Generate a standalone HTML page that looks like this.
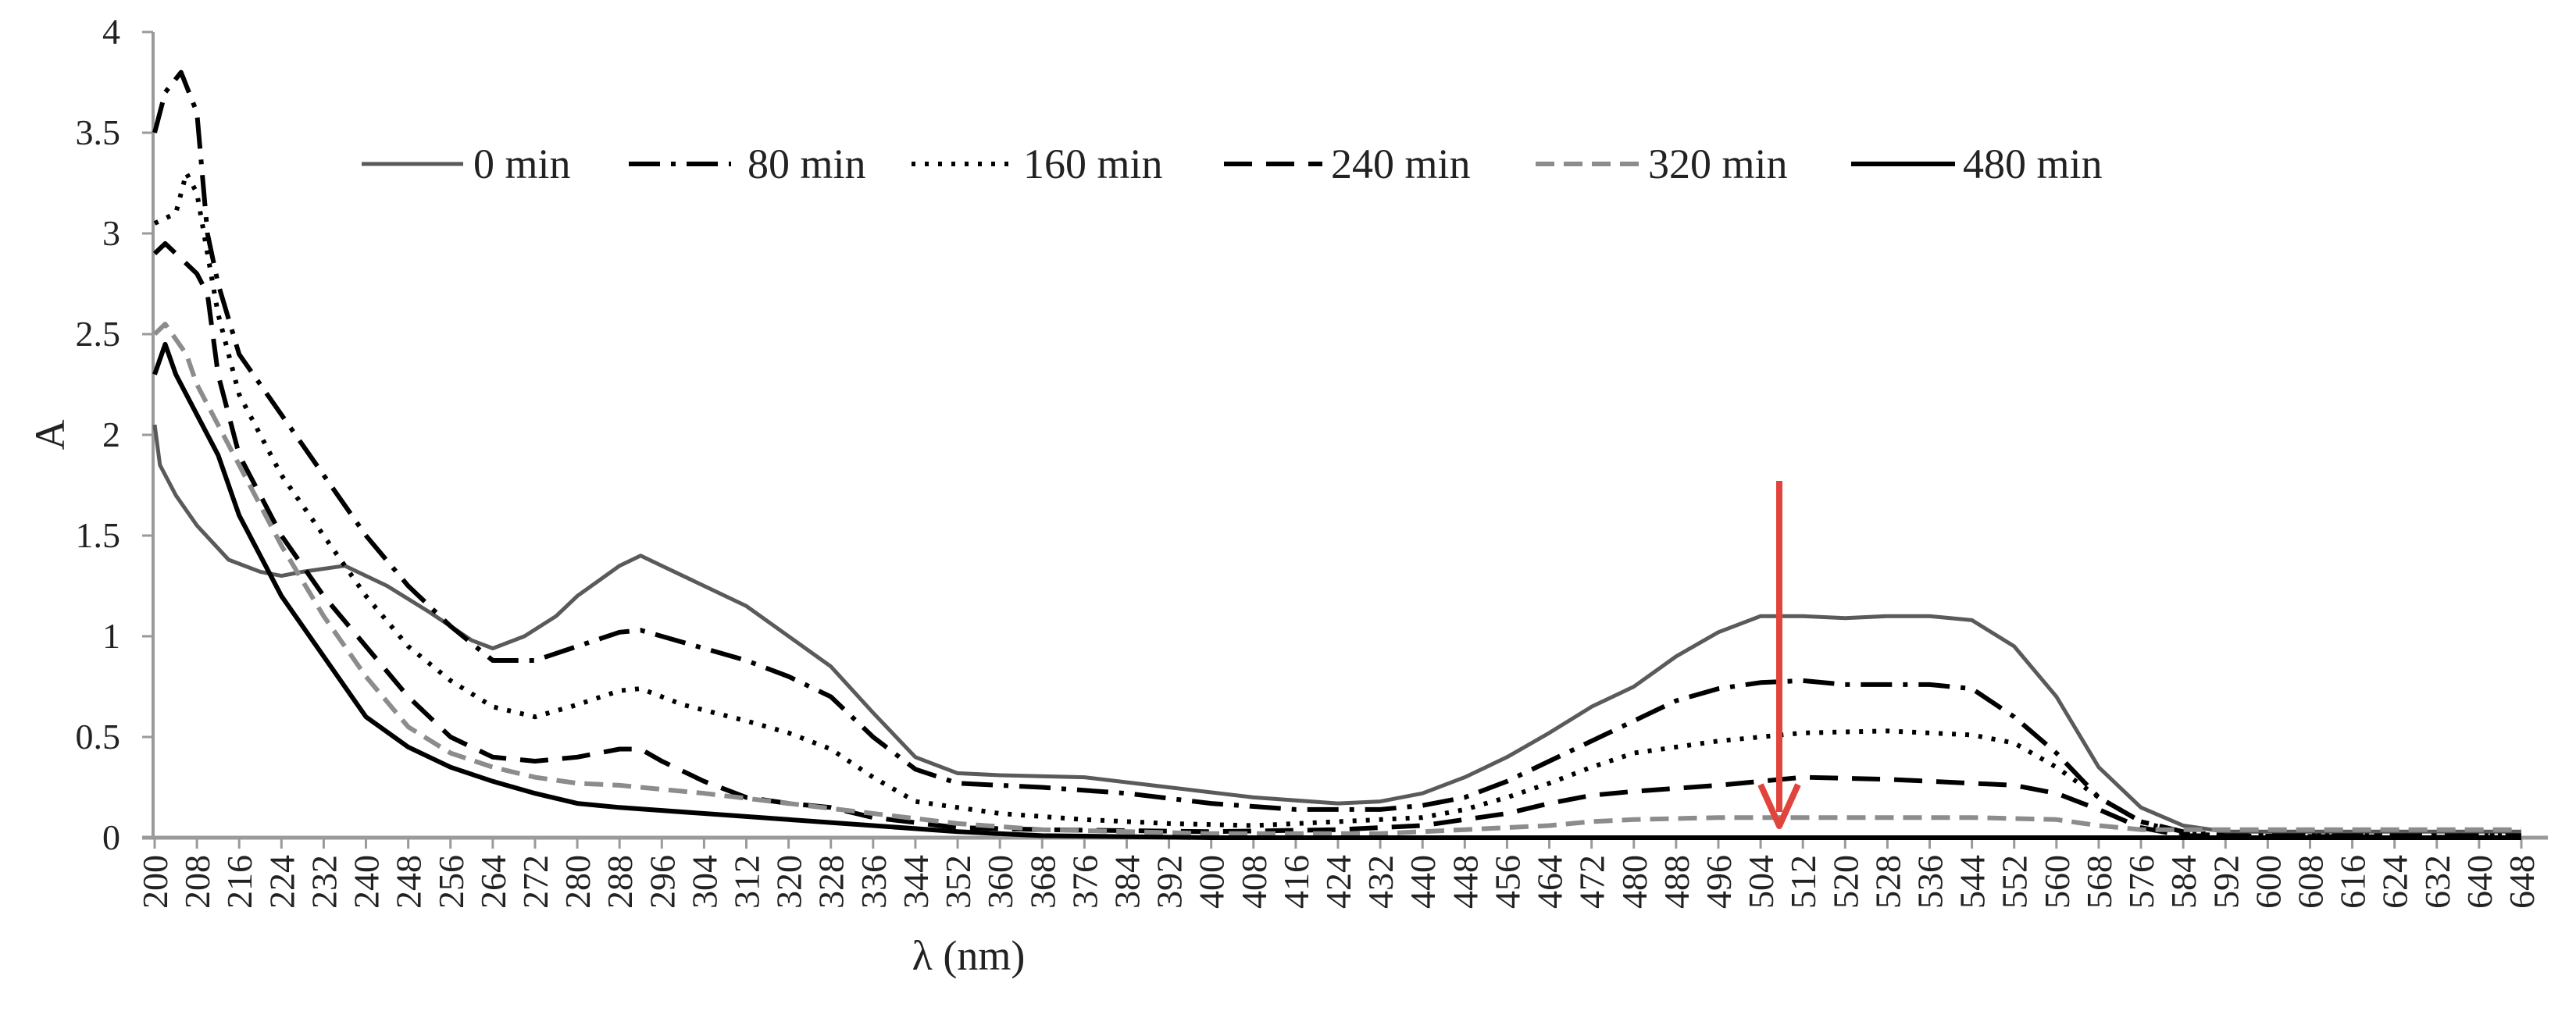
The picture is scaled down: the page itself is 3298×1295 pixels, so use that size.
<!DOCTYPE html>
<html><head><meta charset="utf-8"><style>
html,body{margin:0;padding:0;background:#fff;}
svg{display:block;font-family:"Liberation Serif",serif;}
</style></head><body>
<svg id="chart" width="3298" height="1295" viewBox="0 0 3298 1295"></svg>
<script>
const xTicks=[];for(let v=200;v<=648;v+=8)xTicks.push(v);
const yTicks=[0,0.5,1,1.5,2,2.5,3,3.5,4];
const seriesNames=["0 min","80 min","160 min","240 min","320 min","480 min"];
const wl0=[200,201,204,208,214,220,224,228,236,244,252,260,264,270,276,280,288,292,296,304,312,320,328,336,344,352,360,376,392,408,424,432,440,448,456,464,472,480,488,496,504,512,520,528,536,544,552,560,568,576,584,592,648];
const a0=[2.05,1.85,1.7,1.55,1.38,1.32,1.3,1.32,1.35,1.25,1.12,0.98,0.94,1.0,1.1,1.2,1.35,1.4,1.35,1.25,1.15,1.0,0.85,0.62,0.4,0.32,0.31,0.3,0.25,0.2,0.17,0.18,0.22,0.3,0.4,0.52,0.65,0.75,0.9,1.02,1.1,1.1,1.09,1.1,1.1,1.08,0.95,0.7,0.35,0.15,0.06,0.03,0.03];
const wl80=[200,202,205,208,210,212,216,224,232,240,248,256,264,272,280,288,292,300,312,320,328,336,344,352,368,384,400,416,432,440,448,456,464,472,480,488,496,504,512,520,536,544,552,560,568,576,584,592,648];
const a80=[3.5,3.7,3.8,3.6,3.0,2.75,2.4,2.1,1.8,1.5,1.25,1.05,0.88,0.88,0.95,1.02,1.03,0.97,0.88,0.8,0.7,0.5,0.34,0.27,0.25,0.22,0.17,0.14,0.14,0.16,0.2,0.28,0.38,0.48,0.58,0.68,0.74,0.77,0.78,0.76,0.76,0.74,0.6,0.42,0.2,0.08,0.03,0.01,0.01];
const wl160=[200,204,206,208,210,212,216,224,232,240,248,256,264,272,280,288,292,300,312,320,328,336,344,360,376,392,408,424,440,448,456,464,472,480,496,512,528,544,552,560,568,576,584,592,648];
const a160=[3.05,3.1,3.3,3.2,2.9,2.6,2.2,1.8,1.5,1.2,0.95,0.78,0.65,0.6,0.66,0.73,0.74,0.66,0.58,0.52,0.44,0.3,0.18,0.12,0.09,0.07,0.06,0.08,0.1,0.14,0.2,0.27,0.35,0.42,0.48,0.52,0.53,0.51,0.47,0.35,0.2,0.08,0.02,0.01,0.01];
const wl240=[200,202,204,208,210,212,216,224,232,240,248,256,264,272,280,288,292,296,304,312,320,328,336,352,368,400,424,440,456,464,472,480,496,512,528,544,552,560,568,576,584,648];
const a240=[2.9,2.95,2.9,2.8,2.7,2.3,1.9,1.5,1.2,0.95,0.7,0.5,0.4,0.38,0.4,0.44,0.44,0.38,0.28,0.2,0.17,0.15,0.1,0.05,0.04,0.03,0.04,0.06,0.12,0.17,0.21,0.23,0.26,0.3,0.29,0.27,0.26,0.22,0.14,0.05,0.01,0.0];
const wl320=[200,202,206,208,216,224,232,240,248,256,264,272,280,288,304,320,336,352,368,400,432,448,464,472,480,496,512,544,560,568,576,592,648];
const a320=[2.5,2.55,2.4,2.25,1.85,1.45,1.1,0.8,0.55,0.42,0.35,0.3,0.27,0.26,0.22,0.17,0.12,0.07,0.04,0.02,0.02,0.04,0.06,0.08,0.09,0.1,0.1,0.1,0.09,0.06,0.04,0.04,0.04];
const wl480=[200,202,204,208,212,216,224,232,240,248,256,264,272,280,288,304,320,336,352,368,400,648];
const a480=[2.3,2.45,2.3,2.1,1.9,1.6,1.2,0.9,0.6,0.45,0.35,0.28,0.22,0.17,0.15,0.12,0.09,0.06,0.03,0.01,0,0];

const svg=document.getElementById('chart');const NS='http://www.w3.org/2000/svg';
function mk(t,a,p){const e=document.createElementNS(NS,t);for(const k in a)e.setAttribute(k,a[k]);(p||svg).appendChild(e);return e;}
const X0=198,X1=3228,Y0=1073,Y1=41;
const xs=v=>X0+(v-200)*(X1-X0)/448;
const ys=v=>Y0-v*(Y0-Y1)/4;

let e;
e=mk('line',{x1:196,y1:Y1,x2:196,y2:Y0+2,stroke:'#9a9a9a','stroke-width':4});

e=mk('line',{x1:182,y1:Y0,x2:3262,y2:Y0,stroke:'#9a9a9a','stroke-width':5});

yTicks.forEach(v=>{
  mk('line',{x1:182,y1:ys(v),x2:196,y2:ys(v),stroke:'#9a9a9a','stroke-width':3});
  const t=mk('text',{x:154,y:ys(v)+15,'text-anchor':'end','font-size':46,fill:'#222'});t.textContent=v;
  
});
xTicks.forEach(v=>{
  mk('line',{x1:xs(v),y1:Y0,x2:xs(v),y2:Y0+14,stroke:'#9a9a9a','stroke-width':3});
  const t=mk('text',{transform:`translate(${xs(v)+16},${Y0+22}) rotate(-90)`,'text-anchor':'end','font-size':46,fill:'#222'});t.textContent=v;
  
});
e=mk('text',{x:1240,y:1242,'text-anchor':'middle','font-size':54,fill:'#222'});e.textContent='λ (nm)';

e=mk('text',{transform:'translate(82,557) rotate(-90)','text-anchor':'middle','font-size':54,fill:'#222'});e.textContent='A';


const styles=[
 {c:'#5a5a5a',w:5,d:''},
 {c:'#000',w:6,d:'40,14,6,14'},
 {c:'#000',w:6,d:'5,12'},
 {c:'#000',w:6,d:'36,18'},
 {c:'#8c8c8c',w:6,d:'24,12'},
 {c:'#000',w:6,d:''}];
const wls=[wl0,wl80,wl160,wl240,wl320,wl480];
const vals=[a0,a80,a160,a240,a320,a480];
const names=['series-0-min','series-80-min','series-160-min','series-240-min','series-320-min','series-480-min'];
wls.forEach((w,i)=>{
  const d=w.map((v,j)=>(j?'L':'M')+xs(v).toFixed(1)+','+ys(vals[i][j]).toFixed(1)).join(' ');
  const p=mk('path',{d:d,fill:'none',stroke:styles[i].c,'stroke-width':styles[i].w,'stroke-dasharray':styles[i].d,'stroke-linejoin':'round'});
  
});
const legX=[[463,593,606],[805,936,957],[1167,1294,1310],[1567,1693,1704],[1966,2103,2110],[2370,2503,2513]];
seriesNames.forEach((n,i)=>{
  const g=mk('g',{});
  mk('line',{x1:legX[i][0],y1:210,x2:legX[i][1],y2:210,stroke:styles[i].c,'stroke-width':styles[i].w,'stroke-dasharray':styles[i].d},g);
  const t=mk('text',{x:legX[i][2],y:228,'font-size':54,fill:'#222'},g);t.textContent=n;
});
const ar=mk('g',{});
mk('line',{x1:2278,y1:616,x2:2278,y2:1040,stroke:'#e0443c','stroke-width':8},ar);
mk('path',{d:'M2254,1005 L2278,1058 L2302,1005',fill:'none',stroke:'#e0443c','stroke-width':8,'stroke-linejoin':'round'},ar);
</script>
</body></html>
